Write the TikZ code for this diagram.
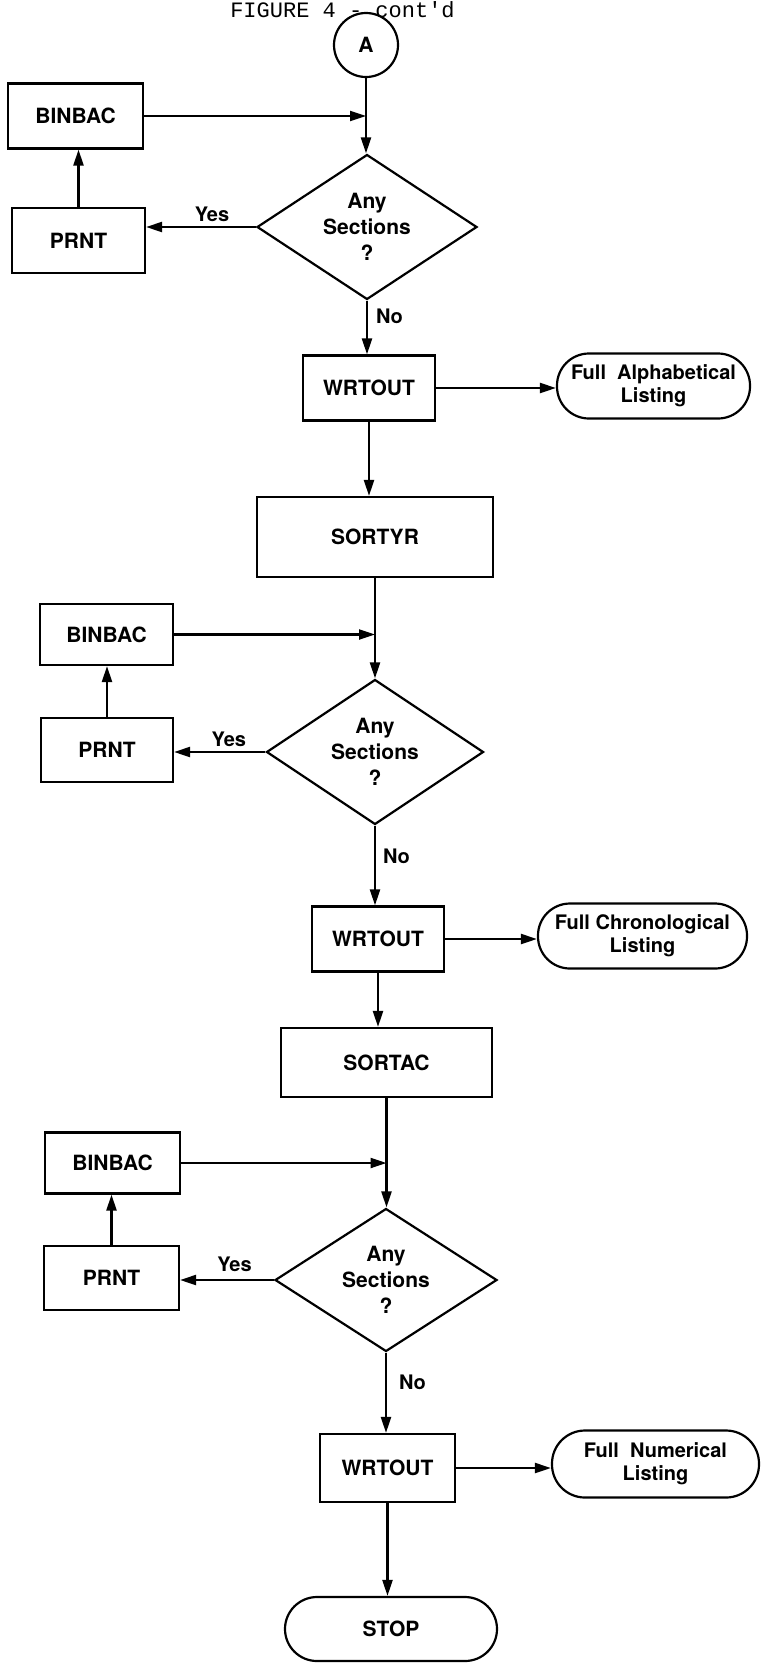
\documentclass[tikz,border=0pt]{standalone}
\usepackage{fontspec}
\setmainfont{TeX Gyre Heros}
\newfontfamily\titlemono{Liberation Mono}
\usetikzlibrary{arrows.meta,shapes.geometric,calc}

\tikzset{
  x=1pt, y=-1pt,
  every node/.style={font=\bfseries\fontsize{21}{25}\selectfont},
  line/.style={line width=2.2pt},
  arr/.style={line width=2.2pt, -{Triangle[length=16pt,width=10pt]}},
  box/.style={draw, line width=2.2pt, rectangle, inner sep=0pt, minimum height=65pt},
  decision/.style={draw, line width=2.2pt, diamond, aspect=1.5, inner sep=0pt,
    minimum width=220pt, minimum height=145pt, align=center,
    font=\bfseries\fontsize{21}{26}\selectfont},
  terminal/.style={draw, line width=2.2pt, rectangle, rounded corners=32pt,
    inner sep=0pt, minimum height=65pt, align=center,
    font=\bfseries\fontsize{20}{23}\selectfont},
  connector/.style={draw, circle, line width=2.2pt, inner sep=0pt, minimum size=64pt},
  lbl/.style={font=\bfseries\fontsize{20}{24}\selectfont, inner sep=4pt},
}

\begin{document}
\begin{tikzpicture}
\useasboundingbox (0,0) rectangle (762,1663);

% heading
\node[font=\titlemono\mdseries\fontsize{22}{26}\selectfont, anchor=base, inner sep=0pt]
  (title) at (342.5,17) {FIGURE 4 - cont'd};

% first pass: alphabetical
\node[connector] (A) at (366,45) {A};
\node[box, minimum width=135pt] (bin1) at (75.5,116) {BINBAC};
\node[box, minimum width=133pt] (prnt1) at (78.5,240.5) {PRNT};
\node[decision] (dia1) at (367,227) {Any\\Sections\\?};
\node[box, minimum width=132pt] (wrt1) at (369,388) {WRTOUT};
\node[terminal, minimum width=193pt] (out1) at (653.5,386) {Full \ Alphabetical\\Listing};
\node[box, minimum width=236pt, minimum height=80pt] (sortyr) at (375,537) {SORTYR};

% second pass: chronological
\node[box, minimum width=133pt, minimum height=61pt] (bin2) at (106.5,634.5) {BINBAC};
\node[box, minimum width=132pt, minimum height=64pt] (prnt2) at (107,750) {PRNT};
\node[decision, minimum width=217pt] (dia2) at (375,752) {Any\\Sections\\?};
\node[box, minimum width=132pt] (wrt2) at (378,939) {WRTOUT};
\node[terminal, minimum width=209pt] (out2) at (642.5,936) {Full Chronological\\Listing};
\node[box, minimum width=211pt, minimum height=69pt] (sortac) at (386.5,1062.5) {SORTAC};

% third pass: numerical
\node[box, minimum width=135pt, minimum height=61pt] (bin3) at (112.5,1163) {BINBAC};
\node[box, minimum width=135pt, minimum height=64pt] (prnt3) at (111.5,1278) {PRNT};
\node[decision, minimum width=222pt, minimum height=143pt] (dia3) at (386,1280) {Any\\Sections\\?};
\node[box, minimum width=135pt, minimum height=68pt] (wrt3) at (387.5,1468) {WRTOUT};
\node[terminal, minimum width=207pt, minimum height=67pt, rounded corners=33pt] (out3) at (655.5,1464) {Full \ Numerical\\Listing};
\node[terminal, minimum width=212pt, minimum height=64pt, font=\bfseries\fontsize{21}{25}\selectfont] (stop) at (391,1629) {STOP};

% junctions where the loops rejoin the main line
\coordinate (j1) at (A.south |- bin1.east);
\coordinate (j2) at (sortyr.south |- bin2.east);
\coordinate (j3) at (sortac.south |- bin3.east);

% connectors, pass 1
\draw[line] (A.south) -- (j1);
\draw[arr] (j1) -- (j1 |- dia1.north);
\draw[arr] (bin1.east) -- (j1);
\draw[arr] (prnt1.north) -- (prnt1.north |- bin1.south);
\draw[arr] (dia1.west) -- node[lbl, pos=0.4, above] {Yes} (dia1.west -| prnt1.east);
\draw[arr] (dia1.south) -- node[lbl, pos=0.3, right, xshift=4pt] {No} (dia1.south |- wrt1.north);
\draw[arr] (wrt1.east) -- (wrt1.east -| out1.west);
\draw[arr] (wrt1.south) -- (wrt1.south |- sortyr.north);

% connectors, pass 2
\draw[line] (sortyr.south) -- (j2);
\draw[arr] (j2) -- (j2 |- dia2.north);
\draw[arr] (bin2.east) -- (j2);
\draw[arr] (prnt2.north) -- (prnt2.north |- bin2.south);
\draw[arr] (dia2.west) -- node[lbl, pos=0.4, above] {Yes} (dia2.west -| prnt2.east);
\draw[arr] (dia2.south) -- node[lbl, pos=0.38, right, xshift=3pt] {No} (dia2.south |- wrt2.north);
\draw[arr] (wrt2.east) -- (wrt2.east -| out2.west);
\draw[arr] (wrt2.south) -- (wrt2.south |- sortac.north);

% connectors, pass 3
\draw[line] (sortac.south) -- (j3);
\draw[arr] (j3) -- (j3 |- dia3.north);
\draw[arr] (bin3.east) -- (j3);
\draw[arr] (prnt3.north) -- (prnt3.north |- bin3.south);
\draw[arr] (dia3.west) -- node[lbl, pos=0.42, above, yshift=3pt] {Yes} (dia3.west -| prnt3.east);
\draw[arr] (dia3.south) -- node[lbl, pos=0.37, right, xshift=8pt] {No} (dia3.south |- wrt3.north);
\draw[arr] (wrt3.east) -- (wrt3.east -| out3.west);
\draw[arr] (wrt3.south) -- (wrt3.south |- stop.north);
\end{tikzpicture}
\end{document}
